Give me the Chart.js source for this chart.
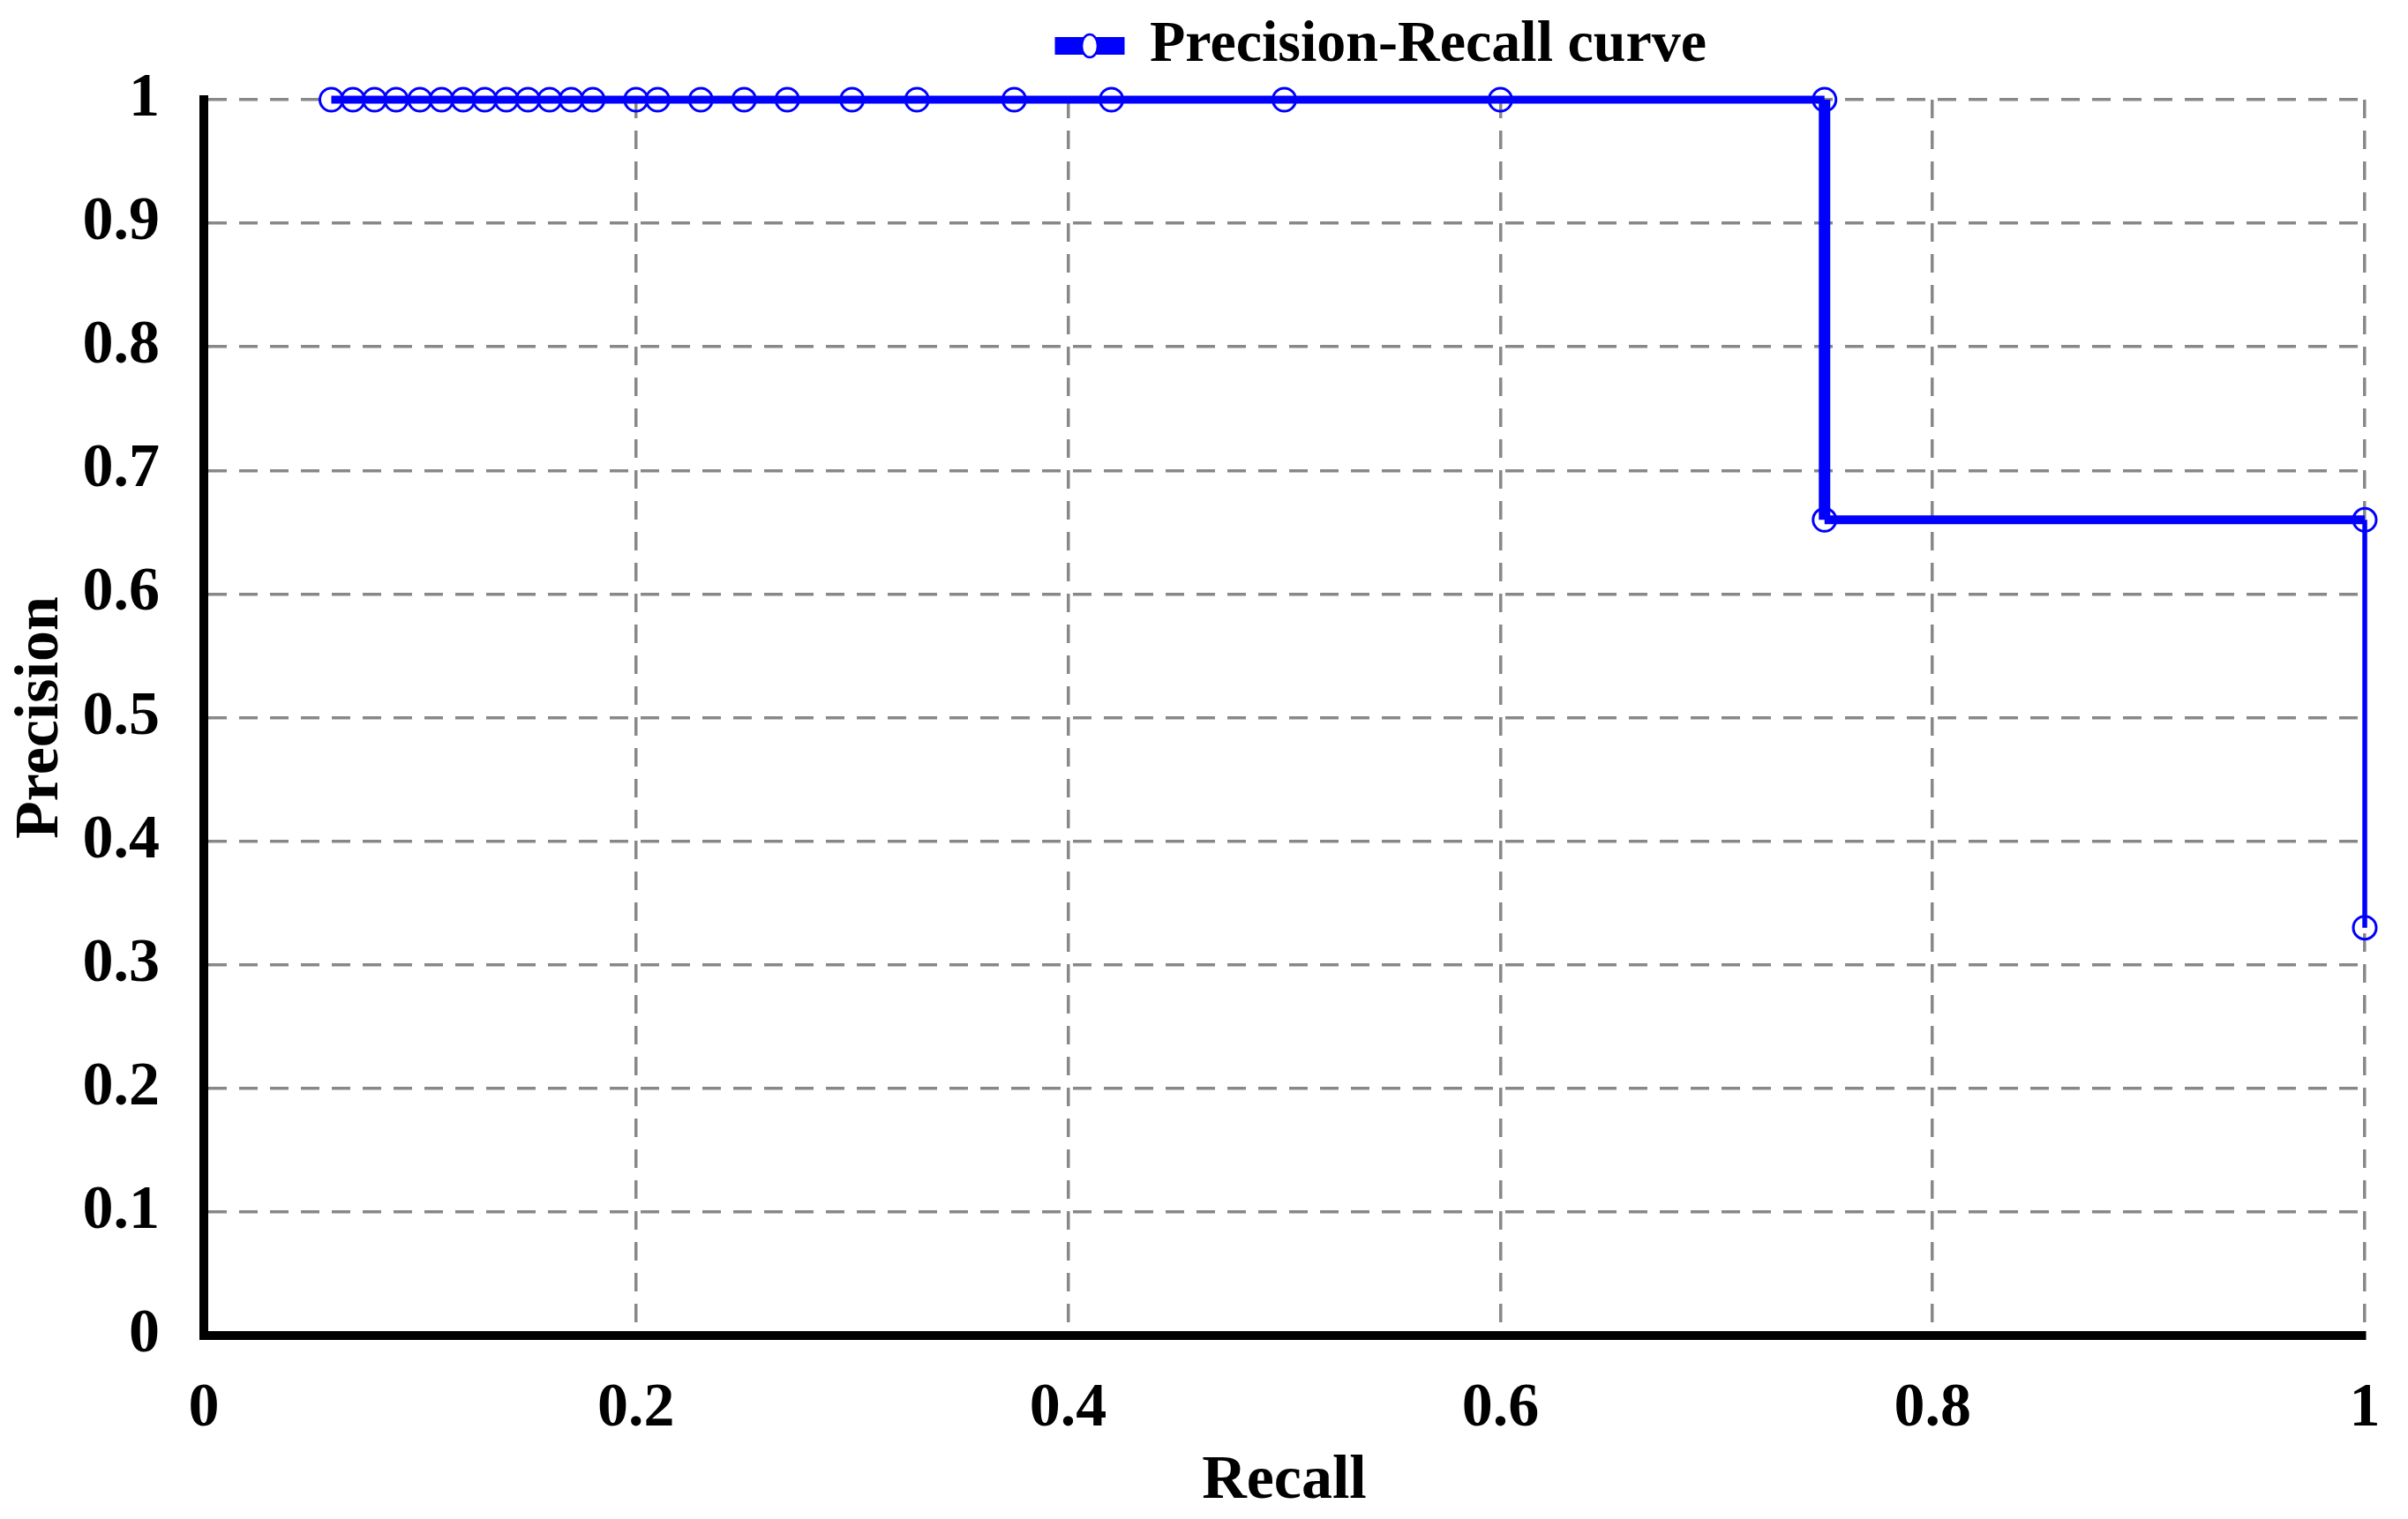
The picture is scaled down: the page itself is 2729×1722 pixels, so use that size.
<!DOCTYPE html>
<html>
<head>
<meta charset="utf-8">
<script src="https://cdn.jsdelivr.net/npm/chart.js@4.4.0/dist/chart.umd.min.js"></script>
<style>
    body { margin: 0; background: #fff; }
    #wrap { width: 2729px; height: 1722px; position: relative; }
</style>
</head>
<body>
<div id="wrap"><canvas id="prChart"></canvas></div>
<script>
// values
const recall = [0.059, 0.069, 0.079, 0.089, 0.1, 0.11, 0.12, 0.13, 0.14, 0.15, 0.16, 0.17, 0.18,
    0.2, 0.21, 0.23, 0.25, 0.27, 0.3, 0.33, 0.375, 0.42, 0.5, 0.6, 0.75, 0.75, 1, 1];
const precision = [1, 1, 1, 1, 1, 1, 1, 1, 1, 1, 1, 1, 1,
    1, 1, 1, 1, 1, 1, 1, 1, 1, 1, 1, 1, 0.66, 0.66, 0.33];
const xTicks = [0, 0.2, 0.4, 0.6, 0.8, 1];
const xTickLabels = ['0', '0.2', '0.4', '0.6', '0.8', '1'];
const yTicks = [0, 0.1, 0.2, 0.3, 0.4, 0.5, 0.6, 0.7, 0.8, 0.9, 1];
const yTickLabels = ['0', '0.1', '0.2', '0.3', '0.4', '0.5', '0.6', '0.7', '0.8', '0.9', '1'];
const seriesLabel = 'Precision-Recall curve';

const BLUE = '#0000ff';
const FAMILY = "'Liberation Serif', 'Times New Roman', serif";
const FONT = { family: FAMILY, weight: 'bold', size: 70 };
const LEGEND_FONT = { family: FAMILY, weight: 'bold', size: 66 };

const points = recall.map((r, i) => ({ x: r, y: precision[i] }));

// line is thicker on the first drop, thinner on the last one
function segWidth(ctx) {
    const a = ctx.p0.parsed, b = ctx.p1.parsed;
    if (a.x === b.x) return a.y === 1 ? 13 : 5.5;
    return a.y === 1 ? 9 : 10;
}

// moves the legend to where it sits in the picture and adds the small ring
const legendPlacer = {
    id: 'legendPlacer',
    afterLayout(chart) {
        const lg = chart.legend;
        const pad = lg.options.labels.padding;
        const w = lg.lineWidths[0] - pad;
        const x0 = (lg.left + lg.right - w) / 2;
        const dx = 1200 - x0;
        lg.left += dx; lg.right += dx;
        lg.top -= 18; lg.bottom -= 18;
    },
    afterDraw(chart) {
        const lg = chart.legend;
        const hb = lg.legendHitBoxes[0];
        if (!hb) return;
        const ctx = chart.ctx;
        const cx = hb.left + lg.options.labels.boxWidth / 2;
        const cy = lg.top + lg.options.labels.padding + LEGEND_FONT.size / 2;
        ctx.save();
        ctx.beginPath();
        ctx.ellipse(cx, cy, 9, 13, 0, 0, Math.PI * 2);
        ctx.fillStyle = '#fff';
        ctx.fill();
        ctx.lineWidth = 2.5;
        ctx.strokeStyle = BLUE;
        ctx.stroke();
        ctx.restore();
    }
};

const gridOpts = {
    color: '#888888',
    lineWidth: 3.5,
    drawTicks: false
};
const borderOpts = { display: true, color: '#000', width: 10, dash: [21, 14] };

new Chart(document.getElementById('prChart'), {
    type: 'line',
    data: {
        datasets: [{
            label: seriesLabel,
            data: points,
            borderColor: BLUE,
            backgroundColor: BLUE,
            borderWidth: 9,
            pointRadius: 13,
            pointBorderWidth: 3,
            pointBorderColor: BLUE,
            pointBackgroundColor: 'rgba(0,0,0,0)',
            tension: 0,
            clip: false,
            segment: { borderWidth: segWidth }
        }]
    },
    options: {
        responsive: true,
        maintainAspectRatio: false,
        animation: false,
        devicePixelRatio: 1,
        layout: { padding: { top: 0, right: 49, bottom: 0, left: 0 } },
        plugins: {
            tooltip: { enabled: false },
            legend: {
                position: 'top',
                labels: {
                    boxWidth: 70,
                    boxHeight: 11,
                    padding: 37,
                    color: '#000',
                    font: LEGEND_FONT
                }
            }
        },
        scales: {
            x: {
                type: 'linear',
                min: 0,
                max: 1,
                afterFit: s => { s.height = 208; s.paddingLeft = 0; s.paddingRight = 0; },
                afterBuildTicks: s => { s.ticks = xTicks.map(v => ({ value: v })); },
                grid: { ...gridOpts },
                border: { ...borderOpts },
                ticks: {
                    color: '#000', font: FONT, padding: 42, maxRotation: 0,
                    callback: (v, i) => xTickLabels[i]
                },
                title: { display: true, text: 'Recall', color: '#000', font: FONT, padding: { top: 0, bottom: 0 } }
            },
            y: {
                type: 'linear',
                min: 0,
                max: 1,
                afterFit: s => { s.width = 231; },
                afterBuildTicks: s => { s.ticks = yTicks.map(v => ({ value: v })); },
                grid: { ...gridOpts },
                border: { ...borderOpts },
                ticks: {
                    color: '#000', font: FONT, padding: 50,
                    callback: (v, i) => yTickLabels[i]
                },
                title: { display: true, text: 'Precision', color: '#000', font: FONT, padding: { top: 5, bottom: 0 } }
            }
        }
    },
    plugins: [legendPlacer]
});
</script>
</body>
</html>
